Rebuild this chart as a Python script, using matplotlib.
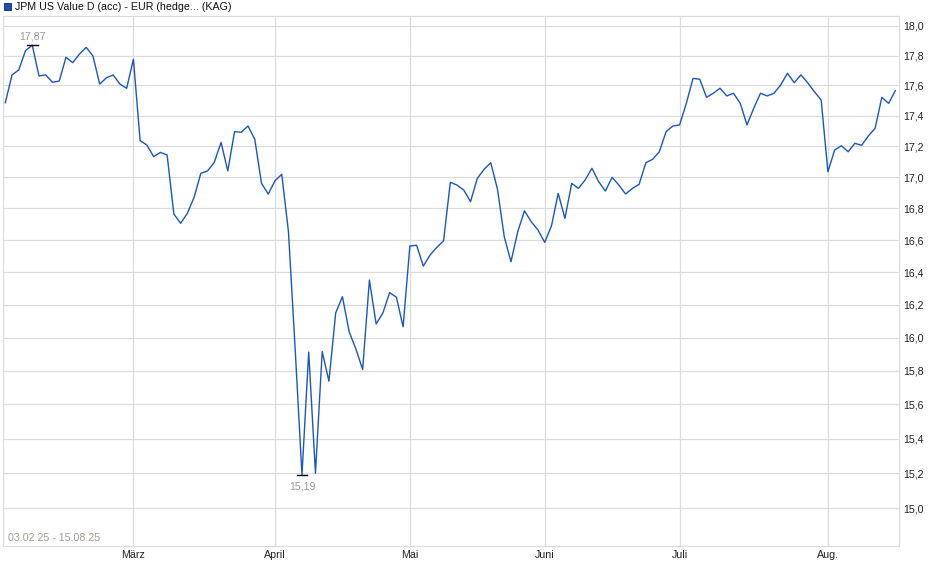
import numpy as np
import matplotlib.pyplot as plt
from matplotlib.patches import Rectangle
from matplotlib.ticker import FixedLocator, NullLocator, FuncFormatter

plt.rcParams['font.family'] = ['Liberation Sans', 'DejaVu Sans']

title = 'JPM US Value D (acc) - EUR (hedge... (KAG)'
period = '03.02.25 - 15.08.25'

# Kurs je Handelstag (03.02.25 - 15.08.25)
prices = [
    17.485, 17.670, 17.703, 17.833, 17.870, 17.663, 17.670, 17.621, 17.629, 17.788,
    17.752, 17.810, 17.855, 17.797, 17.609, 17.651, 17.670, 17.609, 17.581, 17.775,
    17.236, 17.208, 17.132, 17.160, 17.143, 16.765, 16.706, 16.769, 16.871, 17.025,
    17.040, 17.096, 17.225, 17.040, 17.295, 17.291, 17.332, 17.245, 16.960, 16.892,
    16.977, 17.018, 16.651, 15.924, 15.190, 15.912, 15.200, 15.915, 15.738, 16.149,
    16.249, 16.035, 15.930, 15.808, 16.351, 16.082, 16.149, 16.274, 16.246, 16.065,
    16.563, 16.568, 16.438, 16.507, 16.555, 16.596, 16.967, 16.949, 16.917, 16.843,
    16.992, 17.050, 17.093, 16.922, 16.621, 16.465, 16.653, 16.785, 16.716, 16.664,
    16.586, 16.689, 16.896, 16.737, 16.960, 16.928, 16.982, 17.057, 16.971, 16.911,
    16.999, 16.949, 16.892, 16.928, 16.954, 17.093, 17.115, 17.164, 17.295, 17.332,
    17.339, 17.481, 17.647, 17.641, 17.521, 17.548, 17.581, 17.530, 17.548, 17.481,
    17.339, 17.448, 17.548, 17.530, 17.548, 17.603, 17.681, 17.618, 17.670, 17.618,
    17.558, 17.503, 17.035, 17.175, 17.203, 17.164, 17.219, 17.206, 17.267, 17.317,
    17.521, 17.481, 17.565,
]

# erster Handelstag jedes Monats (Index in prices)
month_names = ['März', 'April', 'Mai', 'Juni', 'Juli', 'Aug.']
month_start = [19, 40, 60, 80, 100, 122]

y_ticks = [15.0, 15.2, 15.4, 15.6, 15.8, 16.0, 16.2, 16.4, 16.6, 16.8,
           17.0, 17.2, 17.4, 17.6, 17.8, 18.0]

W, H = 940, 579
fig = plt.figure(figsize=(W / 100, H / 100), dpi=100)
ax = fig.add_axes([3 / W, 1 - 545.5 / H, 895.7 / W, 529.5 / H])

x = np.arange(len(prices))
ax.plot(x, prices, color='#1a56c4', lw=1.0, zorder=3)

ax.set_yscale('log')
ax.set_ylim(14.79, 18.068)
ax.set_xlim(-0.34, len(prices) - 0.5)

ax.yaxis.set_major_locator(FixedLocator(y_ticks))
ax.yaxis.set_minor_locator(NullLocator())
ax.yaxis.set_major_formatter(FuncFormatter(lambda v, p: f'{v:.1f}'.replace('.', ',')))
ax.yaxis.tick_right()
ax.set_xticks(month_start)
ax.set_xticklabels(month_names)
ax.xaxis.set_minor_locator(NullLocator())

ax.tick_params(axis='y', length=0, pad=3, labelsize=7.7, labelcolor='#222222')
ax.tick_params(axis='x', length=0, pad=3, labelsize=7.7, labelcolor='#222222')
ax.grid(True, color='#dcdcdc', lw=0.9, zorder=0)
for s in ax.spines.values():
    s.set_color('#dcdcdc')
    s.set_linewidth(0.9)

# Hoch / Tief markieren
i_max = int(np.argmax(prices))
i_min = int(np.argmin(prices))
for i, off, va in [(i_max, 2.5, 'bottom'), (i_min, -5, 'top')]:
    v = prices[i]
    ax.plot([i - 0.8, i + 0.8], [v, v], color='black', lw=1.0, zorder=4)
    ax.annotate(f'{v:.2f}'.replace('.', ','), (i, v), xytext=(0, off),
                textcoords='offset points', ha='center', va=va,
                fontsize=7.7, color='#9a9a9a')

ax.text(0.006, 0.004, period, transform=ax.transAxes, fontsize=7.7,
        color='#a39d96', ha='left', va='bottom')

# Legende oben links
fig.patches.append(Rectangle((3.5 / W, 1 - 10 / H), 7 / W, 7 / H,
                             transform=fig.transFigure, facecolor='#1e50b4',
                             edgecolor='#0b2a66', lw=0.6))
fig.text(15 / W, 1 - 6.5 / H, title, fontsize=7.7, color='#111111',
         ha='left', va='center')

fig.savefig('out.png', dpi=100)
